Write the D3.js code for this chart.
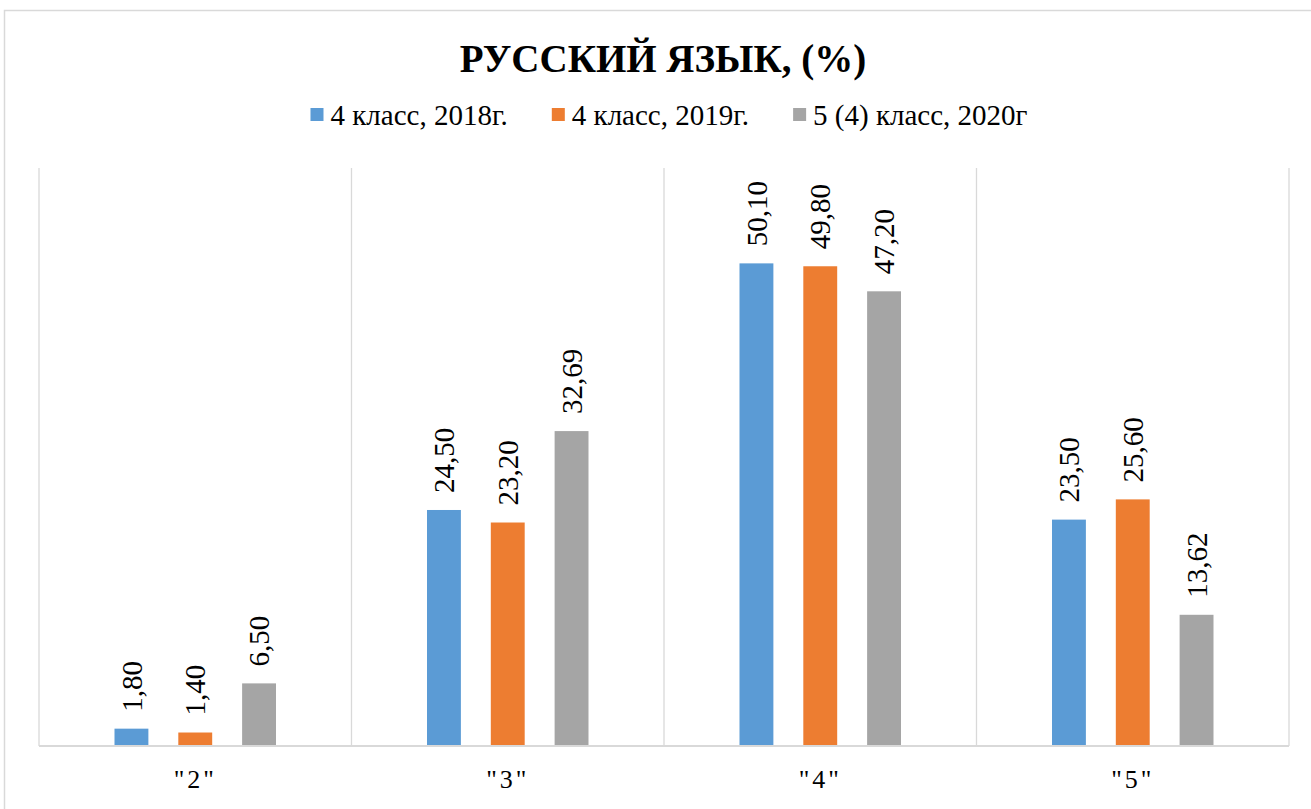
<!DOCTYPE html>
<html>
<head>
<meta charset="utf-8">
<script src="https://cdn.jsdelivr.net/npm/d3@7"></script>
<style>
  body { margin: 0; background: #fff; }
</style>
</head>
<body>
<div id="chart"></div>
<script>
// data
var categories = ['"2"', '"3"', '"4"', '"5"'];
var seriesNames = ['4 класс, 2018г.', '4 класс, 2019г.', '5 (4) класс, 2020г'];
var values2018 = [1.80, 24.50, 50.10, 23.50];
var values2019 = [1.40, 23.20, 49.80, 25.60];
var values2020 = [6.50, 32.69, 47.20, 13.62];
var colors = ['#5b9bd5', '#ed7d31', '#a5a5a5'];

var W = 1311, H = 809;
var FONT = "'Liberation Serif', 'DejaVu Serif', 'Times New Roman', serif";
var svg = d3.select('#chart').append('svg')
  .attr('width', W)
  .attr('height', H)
  .attr('font-family', FONT);

// chart frame (runs off the right/bottom edge like the screenshot)
svg.append('rect')
  .attr('x', 4.5).attr('y', 10.5)
  .attr('width', W + 20).attr('height', H + 20)
  .attr('fill', 'none')
  .attr('stroke', '#d9d9d9')
  .attr('stroke-width', 1.5);

var plotLeft = 39, plotRight = 1289, plotTop = 168, plotBottom = 746;

var x0 = d3.scaleBand().domain(categories).range([plotLeft, plotRight]).padding(0);
var x1 = d3.scaleBand().domain([0, 1, 2])
  .range([75.5, x0.bandwidth() - 75.5])
  .paddingInner(0.469).paddingOuter(0);
var y = d3.scaleLinear().domain([0, 60]).range([plotBottom, plotTop]);

// vertical category separators
var bounds = categories.map(function(c) { return x0(c); }).concat([plotRight]);
svg.append('g').selectAll('line')
  .data(bounds)
  .enter().append('line')
  .attr('x1', function(d) { return d; })
  .attr('x2', function(d) { return d; })
  .attr('y1', plotTop)
  .attr('y2', plotBottom)
  .attr('stroke', '#d9d9d9')
  .attr('stroke-width', 1.3);

var series = [values2018, values2019, values2020];
var rows = [];
for (var s = 0; s < series.length; s++) {
  for (var i = 0; i < categories.length; i++) {
    rows.push({ s: s, cat: categories[i], v: series[s][i] });
  }
}

svg.append('g').selectAll('rect')
  .data(rows)
  .enter().append('rect')
  .attr('x', function(d) { return x0(d.cat) + x1(d.s); })
  .attr('y', function(d) { return y(d.v); })
  .attr('width', x1.bandwidth())
  .attr('height', function(d) { return y(0) - y(d.v); })
  .attr('fill', function(d) { return colors[d.s]; });

// baseline
svg.append('line')
  .attr('x1', plotLeft).attr('x2', plotRight)
  .attr('y1', plotBottom).attr('y2', plotBottom)
  .attr('stroke', '#d9d9d9')
  .attr('stroke-width', 2);

// rotated value labels
var fmt = function(v) { return v.toFixed(2).replace('.', ','); };
svg.append('g').selectAll('text')
  .data(rows)
  .enter().append('text')
  .attr('transform', function(d) {
    var cx = x0(d.cat) + x1(d.s) + x1.bandwidth() / 2;
    return 'translate(' + cx + ',' + (y(d.v) - 17) + ') rotate(-90)';
  })
  .attr('dy', '0.35em')
  .attr('text-anchor', 'start')
  .attr('font-family', FONT)
  .style('font-size', '29px')
  .text(function(d) { return fmt(d.v); });

// category labels
svg.append('g').selectAll('text')
  .data(categories)
  .enter().append('text')
  .attr('x', function(d) { return x0(d) + x0.bandwidth() / 2; })
  .attr('y', 788)
  .attr('text-anchor', 'middle')
  .attr('font-family', FONT)
  .style('font-size', '26px')
  .style('letter-spacing', '3px')
  .text(function(d) { return d; });

// title
svg.append('text')
  .attr('x', 663)
  .attr('y', 72)
  .attr('text-anchor', 'middle')
  .attr('font-family', FONT)
  .style('font-size', '39px')
  .style('font-weight', 'bold')
  .text('РУССКИЙ ЯЗЫК, (%)');

// legend
var legend = svg.append('g');
var cursor = 0;
seriesNames.forEach(function(name, k) {
  var g = legend.append('g').attr('transform', 'translate(' + cursor + ',0)');
  g.append('rect')
    .attr('x', 0).attr('y', 108)
    .attr('width', 13).attr('height', 13)
    .attr('fill', colors[k]);
  var t = g.append('text')
    .attr('x', 20).attr('y', 125)
    .attr('font-family', FONT)
    .style('font-size', '29px')
    .text(name);
  cursor += 20 + t.node().getComputedTextLength() + 44;
});
var legendWidth = cursor - 44;
legend.attr('transform', 'translate(' + (669 - legendWidth / 2) + ',0)');
</script>
</body>
</html>
